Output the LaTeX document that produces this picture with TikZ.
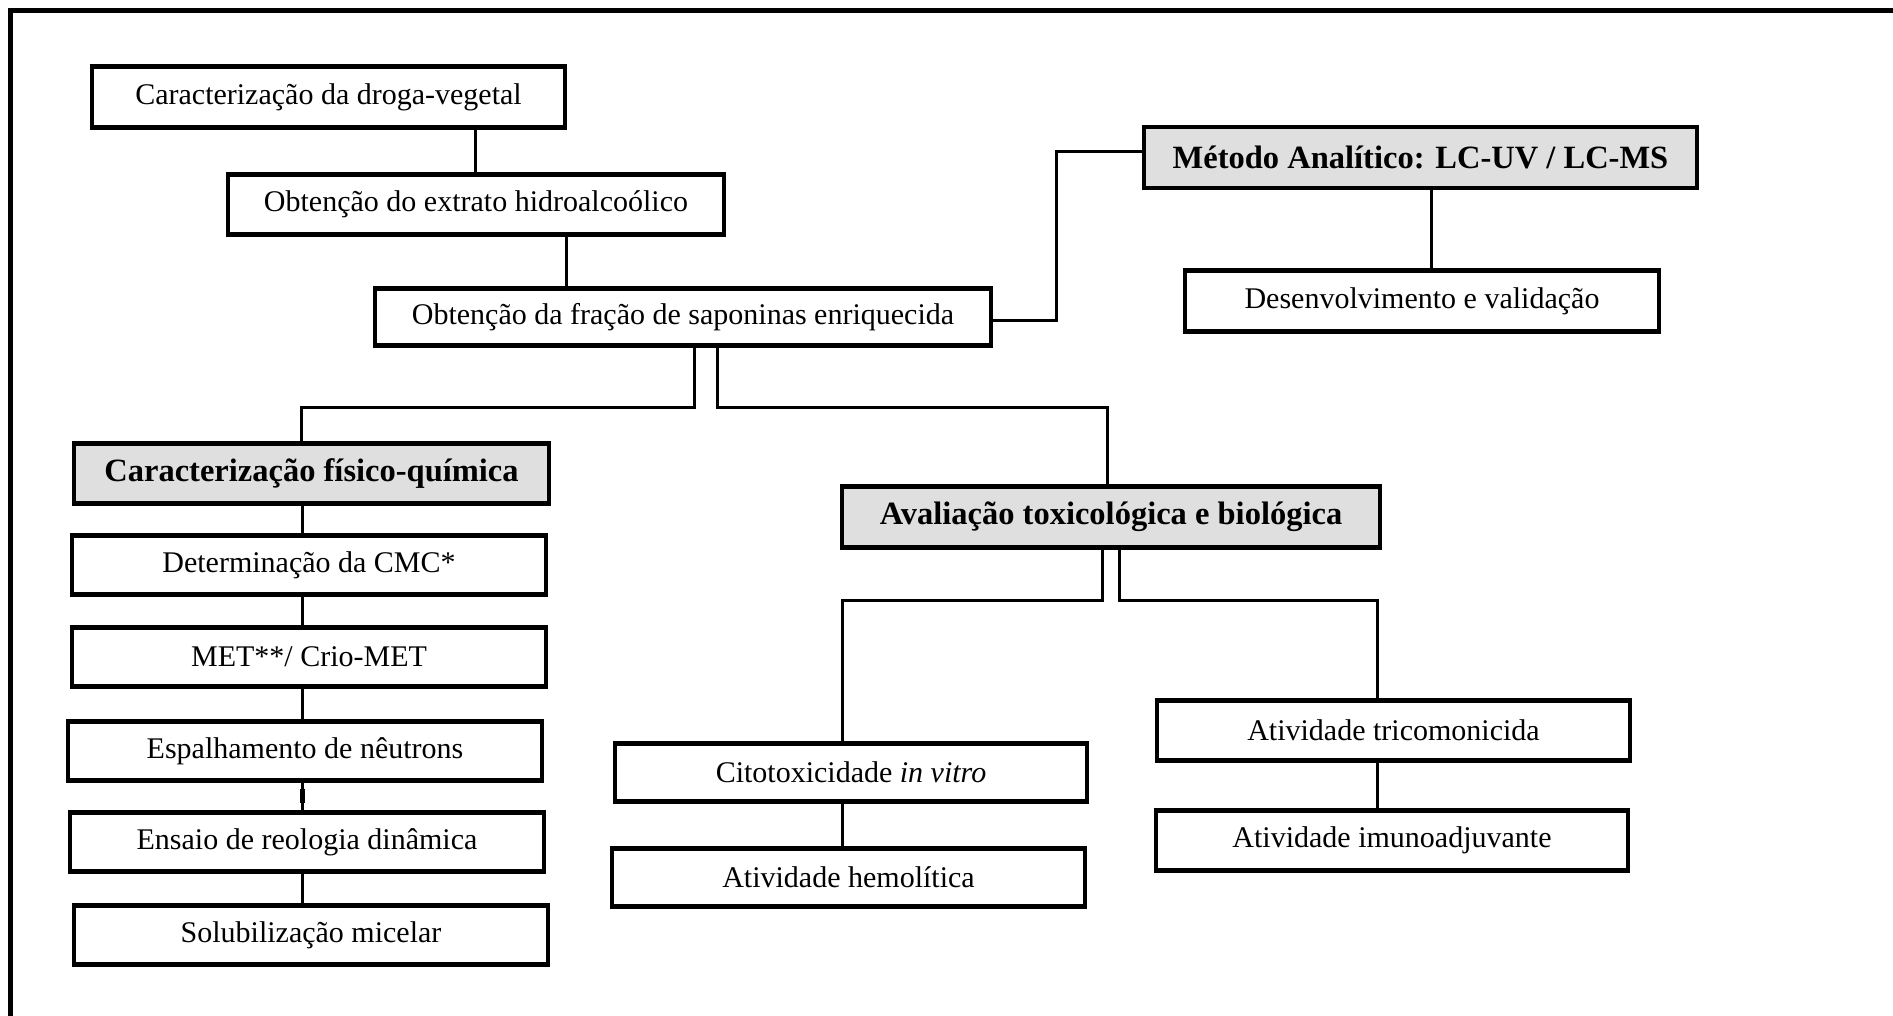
\documentclass[tikz,border=0pt]{standalone}
\usepackage{fontspec}
\setmainfont{Liberation Serif}
\begin{document}
\begin{tikzpicture}[x=0.5pt,y=-0.5pt,
  box/.style={draw=black,line width=2.2pt,fill=white,inner sep=0pt,outer sep=0pt,
    font=\fontsize{15}{18}\selectfont},
  hbox/.style={box,fill=gray!25,font=\fontsize{16.25}{19}\selectfont\bfseries},
  conn/.style={line width=1.5pt},
  frame/.style={line width=2.5pt}]
\useasboundingbox (0,0) rectangle (1893,1016);
% frame
\draw[frame] (10.5,1016) -- (10.5,10.5) -- (1893,10.5);

% nodes
\node[box,minimum width=236.5pt,minimum height=30.5pt] (b1) at (328.5,97) {Caracterização da droga-vegetal};
\node[box,minimum width=248pt,minimum height=30pt] (b2) at (476,204.5) {Obtenção do extrato hidroalcoólico};
\node[box,minimum width=308pt,minimum height=28.5pt] (b3) at (683,317) {Obtenção da fração de saponinas enriquecida};
\node[hbox,minimum width=276.5pt,minimum height=30.5pt] (b4) at (1420.5,157.5) {Método Analítico: LC-UV / LC-MS};
\node[box,minimum width=237pt,minimum height=30.5pt] (b5) at (1422,301) {Desenvolvimento e validação};
\node[hbox,minimum width=237.5pt,minimum height=30pt] (b6) at (311.5,473.5) {Caracterização físico-química};
\node[box,minimum width=237pt,minimum height=29.5pt] (b7) at (309,565) {Determinação da CMC*};
\node[box,minimum width=237pt,minimum height=29.5pt] (b8) at (309,657) {MET**/ Crio-MET};
\node[box,minimum width=237pt,minimum height=29.5pt] (b9) at (305,751) {Espalhamento de nêutrons};
\node[box,minimum width=237pt,minimum height=29.5pt] (b10) at (307,842) {Ensaio de reologia dinâmica};
\node[box,minimum width=237pt,minimum height=29.5pt] (b11) at (311,935) {Solubilização micelar};
\node[hbox,minimum width=269pt,minimum height=30.5pt] (b12) at (1111,517) {Avaliação toxicológica e biológica};
\node[box,minimum width=236pt,minimum height=29pt] (b13) at (851,772.5) {Citotoxicidade \textit{in vitro}};
\node[box,minimum width=236.5pt,minimum height=29pt] (b14) at (848.5,877.5) {Atividade hemolítica};
\node[box,minimum width=236.5pt,minimum height=30pt] (b15) at (1393.5,730.5) {Atividade tricomonicida};
\node[box,minimum width=236pt,minimum height=30pt] (b16) at (1392,840.5) {Atividade imunoadjuvante};

% helper coordinates
\coordinate (x12) at (475,0);
\coordinate (x23) at (566,0);
\coordinate (k3) at (1056,320);
\coordinate (k4) at (1056,152);
\coordinate (x45) at (1431,0);
\coordinate (xa) at (694,0);
\coordinate (xb) at (717,0);
\coordinate (j1) at (301,407);
\coordinate (j2) at (1107.5,407);
\coordinate (xL) at (302,0);
\coordinate (xc) at (1102.5,0);
\coordinate (xd) at (1119,0);
\coordinate (j3) at (842,600);
\coordinate (j5) at (1377,600);

% connectors
\draw[conn] (b1.south -| x12) -- (b2.north -| x12);
\draw[conn] (b2.south -| x23) -- (b3.north -| x23);
\draw[conn] (b3.east |- k3) -- (k3) -- (k4) -- (b4.west |- k4);
\draw[conn] (b4.south -| x45) -- (b5.north -| x45);
\draw[conn] (b3.south -| xa) |- (j1) -- (b6.north -| j1);
\draw[conn] (b3.south -| xb) |- (j2) -- (b12.north -| j2);
\draw[conn] (b6.south -| xL) -- (b7.north -| xL);
\draw[conn] (b7.south -| xL) -- (b8.north -| xL);
\draw[conn] (b8.south -| xL) -- (b9.north -| xL);
\draw[conn] (b9.south -| xL) -- (b10.north -| xL);
\draw[line width=2.5pt] ([yshift=-4pt]b9.south -| xL) -- ([yshift=-11pt]b9.south -| xL);
\draw[conn] (b10.south -| xL) -- (b11.north -| xL);
\draw[conn] (b12.south -| xc) |- (j3) -- (b13.north -| j3);
\draw[conn] (b12.south -| xd) |- (j5) -- (b15.north -| j5);
\draw[conn] (b13.south -| j3) -- (b14.north -| j3);
\draw[conn] (b15.south -| j5) -- (b16.north -| j5);
\end{tikzpicture}
\end{document}
